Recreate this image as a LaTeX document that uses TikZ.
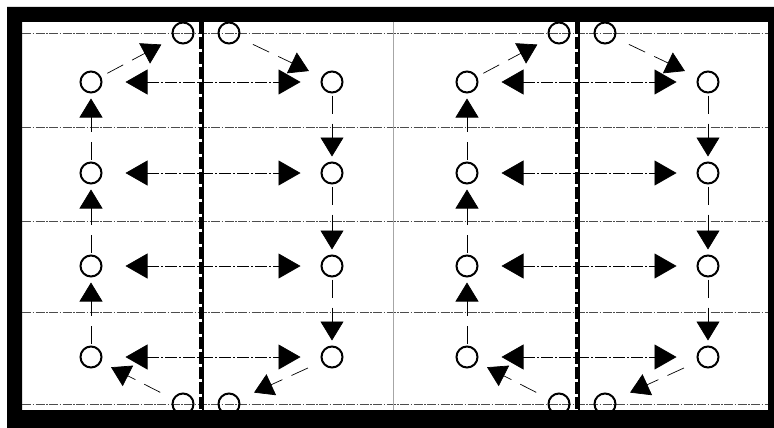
\documentclass[tikz,border=0pt]{standalone}
\usetikzlibrary{arrows.meta}

\begin{document}
\begin{tikzpicture}[x=1pt, y=-1pt,
  spot/.style={draw, circle, line width=2pt, minimum size=21pt, inner sep=0pt},
  gline/.style={gray!60!black, line width=0.6pt, dash pattern=on 9pt off 1.5pt on 1.5pt off 1.5pt},
  trade/.style={{Triangle[length=22pt,width=25pt]}-{Triangle[length=22pt,width=25pt]},
                line width=0.6pt, dash pattern=on 12pt off 2pt on 2pt off 2pt,
                shorten <=23pt, shorten >=20pt},
  move/.style={-{Triangle[length=19pt,width=23pt]}, line width=0.7pt,
               dash pattern=on 18pt off 10pt},
  wall/.style={line width=3.5pt, dash pattern=on 12pt off 3pt}
]
  \useasboundingbox (0,0) rectangle (774,428);
  % frame and grid
  \fill[even odd rule] (7,7) rectangle (774,428) (22,22) rectangle (768,410);
  \foreach \y in {33,127,221,312,404}
    \draw[gline] (22,\y) -- (768,\y);
  \draw[gray!70, line width=0.8pt] (393,22) -- (393,410);

  \foreach \g/\dx in {a/0, b/376} {
    \draw[wall] (201+\dx,22) -- (201+\dx,410);
    \draw[line width=1.2pt] (203+\dx,22) -- (203+\dx,410);
    \foreach \r/\y in {1/82, 2/173, 3/266, 4/357} {
      \node[spot] (l\r-\g) at (91+\dx,\y) {};
      \node[spot] (r\r-\g) at (332+\dx,\y) {};
      \draw[trade] (l\r-\g) -- (r\r-\g);
    }
    \node[spot] (tl-\g) at (183+\dx,33) {};
    \node[spot] (tr-\g) at (229+\dx,33) {};
    \node[spot] (bl-\g) at (183+\dx,404) {};
    \node[spot] (br-\g) at (229+\dx,404) {};
    % round trip
    \foreach \a/\b in {2/1, 3/2, 4/3} {
      \draw[move, shorten <=2pt, shorten >=5pt] (l\a-\g) -- (l\b-\g);
      \draw[move, shorten <=2pt, shorten >=5pt] (r\b-\g) -- (r\a-\g);
    }
    \draw[move, shorten <=7pt, shorten >=13pt] (l1-\g) -- (tl-\g);
    \draw[move, shorten <=15pt, shorten >=14pt] (tr-\g) -- (r1-\g);
    \draw[move, shorten <=15pt, shorten >=16pt] (r4-\g) -- (br-\g);
    \draw[move, shorten <=14pt, shorten >=11pt] (bl-\g) -- (l4-\g);
  }
\end{tikzpicture}
\end{document}
